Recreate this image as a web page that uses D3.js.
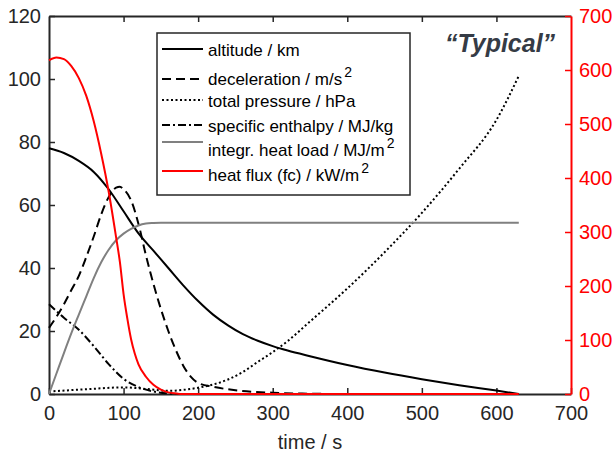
<!DOCTYPE html>
<html>
<head>
<meta charset="utf-8">
<title>Typical entry trajectory</title>
<style>
    body { margin: 0; background: #fff; font-family: "Liberation Sans", Arial, sans-serif; }
    svg text { font-family: "Liberation Sans", Arial, sans-serif; }
</style>
<script src="https://d3js.org/d3.v7.min.js"></script>
</head>
<body>
<script>
// values (time in s)
var altT = [0, 20, 40, 60, 80, 100, 120, 140, 160, 180, 200, 220, 240, 260, 280, 300, 320, 350, 400, 450, 500, 550, 600, 630];
var altV = [78, 76.5, 74, 70.5, 65, 58, 51, 45.5, 40, 34.5, 29.5, 25.2, 21.8, 19, 16.9, 15.2, 13.8, 12, 9.2, 6.8, 4.7, 2.8, 1.1, 0];

var decT = [0, 10, 20, 30, 40, 50, 60, 70, 80, 90, 95, 100, 110, 120, 130, 140, 150, 160, 170, 180, 190, 200, 220, 250, 300, 350, 400, 630];
var decV = [21, 24.5, 28.5, 33, 37.5, 43.5, 50, 57, 62.5, 65.5, 65.8, 65, 61.5, 54, 44, 35, 27, 20, 14, 9, 5.5, 3.5, 2.3, 1.2, 0.4, 0.1, 0, 0];

var presT = [0, 50, 100, 130, 160, 180, 200, 220, 240, 260, 280, 300, 320, 350, 400, 450, 500, 550, 600, 630];
var presV = [0.8, 1.5, 2.1, 1.6, 1.0, 1.3, 2.0, 3.0, 4.6, 7, 10.2, 13.3, 16.8, 23, 33.5, 45, 57.5, 71.5, 87, 101];

var enthT = [0, 20, 40, 60, 80, 100, 120, 140, 160, 180, 630];
var enthV = [28.5, 24.2, 20.4, 15.2, 9.5, 4.8, 2.2, 0.8, 0.2, 0, 0];

var loadT = [0, 10, 20, 30, 40, 50, 60, 70, 80, 90, 100, 110, 120, 130, 140, 150, 630];
var loadV = [0, 6.5, 13, 19.3, 25.2, 31, 36.8, 41.8, 45.8, 48.8, 50.9, 52.4, 53.5, 54.1, 54.3, 54.4, 54.4];

var fluxT = [0, 10, 20, 30, 40, 50, 60, 70, 80, 90, 95, 100, 105, 110, 115, 120, 130, 140, 150, 160, 170, 180, 630];
var fluxV = [618, 623, 620, 607, 585, 552, 505, 445, 375, 290, 245, 185, 140, 102, 75, 55, 32, 17, 8, 3, 1, 0, 0];

var xTicks = [0, 100, 200, 300, 400, 500, 600, 700];
var yLeftTicks = [0, 20, 40, 60, 80, 100, 120];
var yRightTicks = [0, 100, 200, 300, 400, 500, 600, 700];

var legendNames = [
    ["altitude / km", ""],
    ["deceleration / m/s", "2"],
    ["total pressure / hPa", ""],
    ["specific enthalpy / MJ/kg", ""],
    ["integr. heat load / MJ/m", "2"],
    ["heat flux (fc) / kW/m", "2"]
];

var width = 615, height = 452;
var plotL = 49, plotR = 571, plotT = 16, plotB = 394;
var red = "#ff0000", axisCol = "#262626";

var svg = d3.select("body").append("svg")
    .attr("width", width)
    .attr("height", height);

var x = d3.scaleLinear().domain([0, 700]).range([plotL, plotR]);
var yL = d3.scaleLinear().domain([0, 120]).range([plotB, plotT]);
var yR = d3.scaleLinear().domain([0, 700]).range([plotB, plotT]);

// axes (ticks point inward like matlab)
var tickLen = 6;
var gx = svg.append("g").attr("transform", "translate(0," + plotB + ")")
    .call(d3.axisBottom(x).tickValues(xTicks).tickSizeInner(-tickLen).tickSizeOuter(0).tickPadding(12));
var gxTop = svg.append("g").attr("transform", "translate(0," + plotT + ")")
    .call(d3.axisTop(x).tickValues(xTicks).tickSizeInner(-tickLen).tickSizeOuter(0).tickFormat(""));
var gyL = svg.append("g").attr("transform", "translate(" + plotL + ",0)")
    .call(d3.axisLeft(yL).tickValues(yLeftTicks).tickSizeInner(-tickLen).tickSizeOuter(0).tickPadding(8));
var gyR = svg.append("g").attr("transform", "translate(" + plotR + ",0)")
    .call(d3.axisRight(yR).tickValues(yRightTicks).tickSizeInner(-tickLen).tickSizeOuter(0).tickPadding(8));

[gx, gxTop, gyL].forEach(function(g) {
    g.select(".domain").attr("stroke", axisCol).attr("stroke-width", 2);
    g.selectAll(".tick line").attr("stroke", axisCol).attr("stroke-width", 1.5);
    g.selectAll(".tick text").attr("fill", axisCol).style("font-size", "20px");
});
gyR.select(".domain").attr("stroke", red).attr("stroke-width", 2);
gyR.selectAll(".tick line").attr("stroke", red).attr("stroke-width", 1.5);
gyR.selectAll(".tick text").attr("fill", red).style("font-size", "20px");
// end ticks sit on the frame
gxTop.selectAll(".tick").filter(function(d) { return d === 0 || d === 700; }).select("line").remove();

svg.append("text")
    .attr("x", (plotL + plotR) / 2)
    .attr("y", 449)
    .attr("text-anchor", "middle")
    .attr("fill", axisCol)
    .style("font-size", "20px")
    .text("time / s");

// data lines
var series = [
    { t: altT, v: altV, y: yL, color: "#000", dash: null },
    { t: decT, v: decV, y: yL, color: "#000", dash: "9,5" },
    { t: presT, v: presV, y: yL, color: "#000", dash: "2,2.5" },
    { t: enthT, v: enthV, y: yL, color: "#000", dash: "8,3,2,3" },
    { t: loadT, v: loadV, y: yL, color: "#808080", dash: null },
    { t: fluxT, v: fluxV, y: yR, color: red, dash: null }
];

var lines = svg.append("g");
series.forEach(function(s) {
    var pts = s.t.map(function(t, i) { return [t, s.v[i]]; });
    var line = d3.line()
        .x(function(d) { return x(d[0]); })
        .y(function(d) { return s.y(d[1]); })
        .curve(d3.curveMonotoneX);
    lines.append("path")
        .datum(pts)
        .attr("fill", "none")
        .attr("stroke", s.color)
        .attr("stroke-width", 2)
        .attr("stroke-dasharray", s.dash)
        .attr("d", line);
});

// legend
var lg = svg.append("g");
lg.append("rect")
    .attr("x", 157).attr("y", 33)
    .attr("width", 253).attr("height", 162)
    .attr("fill", "#fff")
    .attr("stroke", axisCol)
    .attr("stroke-width", 1.5);

var rowY = [50, 79, 101, 126, 150, 175];
var lineY = [49, 79, 100, 125, 142, 171];
series.forEach(function(s, i) {
    lg.append("line")
        .attr("x1", 162).attr("x2", 203)
        .attr("y1", lineY[i]).attr("y2", lineY[i])
        .attr("stroke", s.color)
        .attr("stroke-width", 2)
        .attr("stroke-dasharray", s.dash);
    var t = lg.append("text")
        .attr("x", 208)
        .attr("y", rowY[i] + 6)
        .attr("fill", "#000")
        .style("font-size", "17px")
        .text(legendNames[i][0]);
    if (legendNames[i][1]) {
        t.append("tspan")
            .attr("dx", 2)
            .attr("dy", -8)
            .style("font-size", "14px")
            .text(legendNames[i][1]);
    }
});

svg.append("text")
    .attr("x", 500)
    .attr("y", 52)
    .attr("text-anchor", "middle")
    .attr("fill", "#353b45")
    .style("font-size", "25px")
    .style("font-weight", "bold")
    .style("font-style", "italic")
    .text("\u201CTypical\u201D");
</script>
</body>
</html>
